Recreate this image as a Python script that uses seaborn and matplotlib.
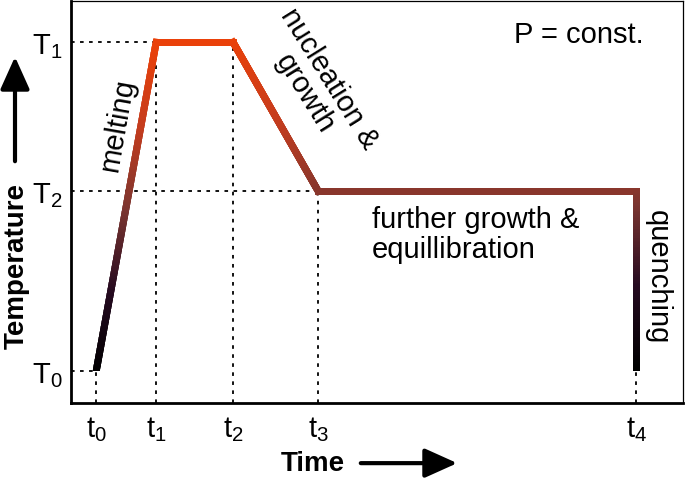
import numpy as np
import matplotlib
matplotlib.use("Agg")
import matplotlib.pyplot as plt
import seaborn as sns
from matplotlib.collections import LineCollection
from matplotlib.patches import Rectangle, FancyArrowPatch

# temperature / time profile (arbitrary units)
stage_times = [0.0, 1.0, 2.28, 3.7, 9.0]
temp_levels = [0.0, 1.0, 0.547]        # T0, T1, T2

# corners of the profile: t0/T0 -> t1/T1 -> t2/T1 -> t3/T2 -> t4/T2 -> t4/T0
path_t = [stage_times[0], stage_times[1], stage_times[2], stage_times[3], stage_times[4], stage_times[4]]
path_T = [temp_levels[0], temp_levels[1], temp_levels[1], temp_levels[2], temp_levels[2], temp_levels[0]]

# dashed guides
vguide_t = stage_times
vguide_T = [temp_levels[0], temp_levels[1], temp_levels[1], temp_levels[2], temp_levels[0]]
hguide_T = [temp_levels[0], temp_levels[1], temp_levels[2]]
hguide_t = [stage_times[0], stage_times[1], stage_times[3]]

xtick_labels = [r"$\mathrm{t}_{0}$", r"$\mathrm{t}_{1}$", r"$\mathrm{t}_{2}$", r"$\mathrm{t}_{3}$", r"$\mathrm{t}_{4}$"]
ytick_labels = [r"$\mathrm{T}_{0}$", r"$\mathrm{T}_{1}$", r"$\mathrm{T}_{2}$"]

sns.set_theme(style="white")
plt.rcParams["font.family"] = ["Liberation Sans", "DejaVu Sans"]
plt.rcParams["mathtext.fontset"] = "custom"
plt.rcParams["mathtext.rm"] = "Liberation Sans"
plt.rcParams["mathtext.it"] = "Liberation Sans:italic"
for key in ["text.color", "axes.labelcolor", "xtick.color", "ytick.color"]:
    plt.rcParams[key] = "black"

heat = sns.blend_palette(["#000000", "#250a20", "#7b3530", "#c43c1e", "#ea410a"], as_cmap=True)

fig = plt.figure(figsize=(6.85, 4.85), dpi=100)
ax = fig.add_axes([71 / 685, 81 / 485, 612 / 685, 402 / 485])

xmin, xmax = -0.42, 9.78
ymin, ymax = -0.097, 1.125
ax.set_xlim(xmin, xmax)
ax.set_ylim(ymin, ymax)

# guides
dash = (0, (2, 3))
ax.vlines(vguide_t, ymin, vguide_T, colors="black", linestyles=dash, lw=1.3, zorder=1)
ax.hlines(hguide_T, xmin, hguide_t, colors="black", linestyles=dash, lw=1.3, zorder=1)

# densify the profile so it can be coloured by temperature
pts_t, pts_T = [], []
for i in range(len(path_t) - 1):
    n = 120
    s = np.linspace(0, 1, n, endpoint=False)
    pts_t.extend(path_t[i] + (path_t[i + 1] - path_t[i]) * s)
    pts_T.extend(path_T[i] + (path_T[i + 1] - path_T[i]) * s)
pts_t.append(path_t[-1])
pts_T.append(path_T[-1])
pts = np.column_stack([pts_t, pts_T])
segs = np.stack([pts[:-1], pts[1:]], axis=1)
seg_T = (pts[:-1, 1] + pts[1:, 1]) / 2

lc = LineCollection(segs, cmap=heat, norm=plt.Normalize(0, 1), lw=5, capstyle="projecting", zorder=3)
lc.set_array(seg_T)
ax.add_collection(lc)
# cut the projecting caps flat at T0
clip = Rectangle((xmin, temp_levels[0]), xmax - xmin, ymax - temp_levels[0], transform=ax.transData,
                 visible=False)
ax.add_patch(clip)
lc.set_clip_path(clip)

ax.set_xticks(stage_times)
ax.set_xticklabels(xtick_labels, fontsize=21)
ax.set_yticks(temp_levels)
ax.set_yticklabels(ytick_labels, fontsize=21)
ax.tick_params(axis="x", length=0, pad=8)
ax.tick_params(axis="y", length=0, pad=6)
ax.grid(False)

for side in ["left", "bottom"]:
    ax.spines[side].set_linewidth(2.0)
for side in ["top", "right"]:
    ax.spines[side].set_linewidth(0.9)
for sp in ax.spines.values():
    sp.set_color("black")

fs = 21
ax.text(0.36, 0.75, "melting", rotation=80, fontsize=fs, ha="center", va="center")
ax.text(3.68, 0.87, "nucleation &\ngrowth", rotation=-58, fontsize=fs, ha="center", va="center",
        multialignment="center", rotation_mode="anchor", linespacing=1.0)
ax.text(4.6, 0.505, "further growth &\nequillibration", fontsize=fs, ha="left", va="top", linespacing=1.1)
ax.text(9.36, 0.29, "quenching", rotation=-90, fontsize=fs, ha="center", va="center")
ax.text(9.12, 1.024, "P = const.", fontsize=fs, ha="right", va="center")

# axis titles with arrows
fig.text(0.024, 0.452, "Temperature", rotation=90, fontsize=20, fontweight="bold", ha="center", va="center")
fig.text(0.456, 0.043, "Time", fontsize=20, fontweight="bold", ha="center", va="center")
arrow = dict(arrowstyle="-|>,head_length=1.0,head_width=0.45", lw=3, color="black", mutation_scale=20)
fig.add_artist(FancyArrowPatch((15 / 685, 1 - 165 / 485), (15 / 685, 1 - 55 / 485),
                               transform=fig.transFigure, **arrow))
fig.add_artist(FancyArrowPatch((358 / 685, 0.043), (460 / 685, 0.043),
                               transform=fig.transFigure, **arrow))

fig.savefig("out.png", dpi=100)
